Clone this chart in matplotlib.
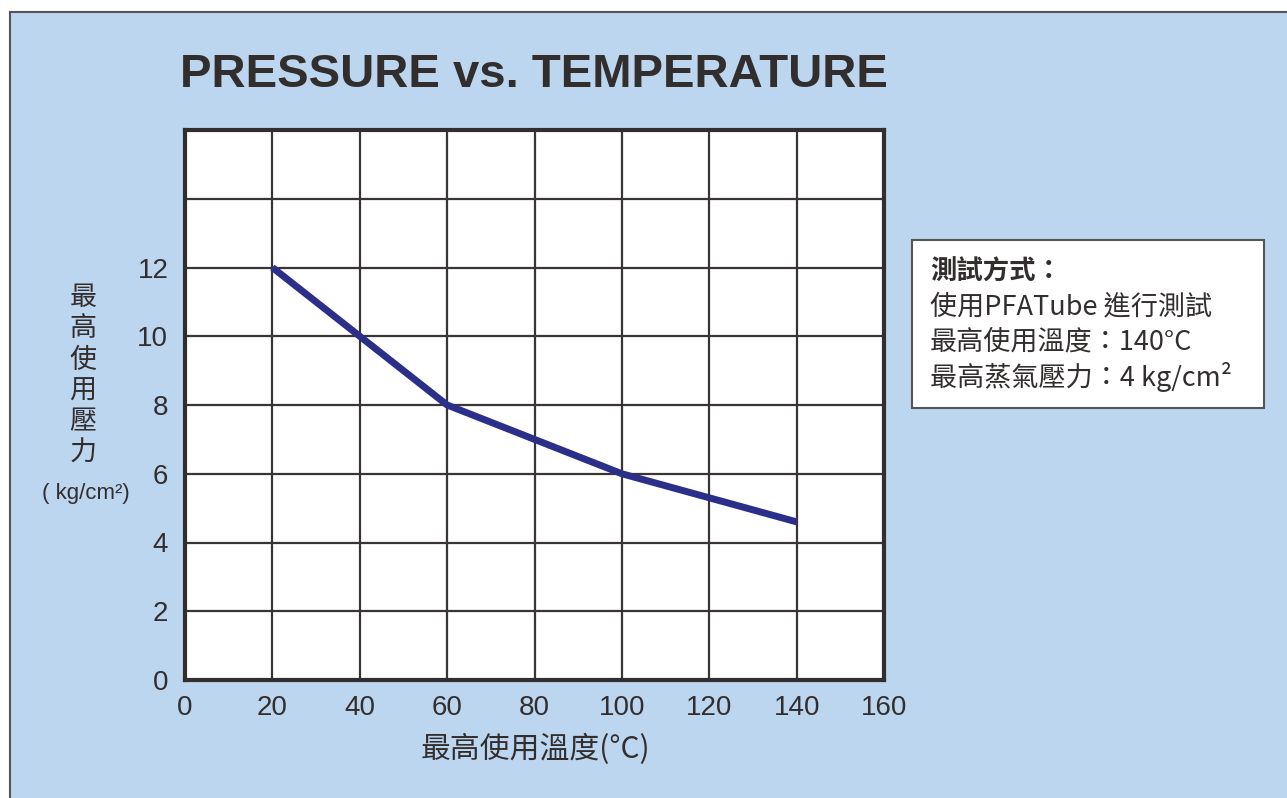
import matplotlib
matplotlib.use("Agg")
import matplotlib.pyplot as plt
from matplotlib.patches import Rectangle
from matplotlib.lines import Line2D

temps = [20, 40, 60, 80, 100, 120, 140]
pressures = [12, 10, 8, 7, 6, 5.3, 4.6]
x_ticks = [0, 20, 40, 60, 80, 100, 120, 140, 160]
y_ticks = [0, 2, 4, 6, 8, 10, 12]
y_grid = [0, 2, 4, 6, 8, 10, 12, 14, 16]

title = "PRESSURE vs. TEMPERATURE"
xlabel = "最高使用溫度(°C)"
ylabel_chars = ["最", "高", "使", "用", "壓", "力"]
ylabel_unit = "( kg/cm²)"
box_title = "測試方式："
box_lines = ["使用PFATube 進行測試", "最高使用溫度：140°C", "最高蒸氣壓力：4 kg/cm²"]

BG = "#BCD6F0"
DARK = "#332e2e"
LINE = "#2B2F8A"
CJK = ["Noto Sans CJK TC", "DejaVu Sans"]
LAT = ["Liberation Sans", "DejaVu Sans"]

W, H = 1287, 798
fig = plt.figure(figsize=(W / 100, H / 100), dpi=100)
fig.patch.set_facecolor("white")

# blue panel with frame
fig.patches.append(Rectangle((10 / W, 0), 1 - 10 / W, (H - 12) / H, transform=fig.transFigure,
                             facecolor=BG, edgecolor="none", zorder=0))
fig.lines.append(Line2D([10 / W, 10 / W], [0, (H - 12) / H], transform=fig.transFigure,
                        color="#555555", lw=1.5))
fig.lines.append(Line2D([10 / W, 1], [(H - 12) / H, (H - 12) / H], transform=fig.transFigure,
                        color="#555555", lw=1.5))

ax = fig.add_axes([185 / W, (H - 680) / H, 699 / W, 550 / H])
ax.set_zorder(5)
ax.set_facecolor("white")
ax.set_xlim(0, 160)
ax.set_ylim(0, 16)
for v in x_ticks[1:-1]:
    ax.axvline(v, color="#3a3535", lw=1.6, zorder=1)
for v in y_grid[1:-1]:
    ax.axhline(v, color="#3a3535", lw=1.6, zorder=1)
ax.plot(temps, pressures, color=LINE, lw=5, solid_capstyle="butt", solid_joinstyle="miter", zorder=3)

for s in ax.spines.values():
    s.set_linewidth(3)
    s.set_color(DARK)
ax.set_xticks(x_ticks)
ax.set_yticks(y_ticks)
ax.set_xticklabels([str(v) for v in x_ticks], fontsize=20, color=DARK, family=LAT)
ax.set_yticklabels([str(v) for v in y_ticks], fontsize=20, color=DARK, family=LAT)
ax.tick_params(axis="x", length=0, pad=11)
ax.tick_params(axis="y", length=0, pad=12)

# title
fig.text(534 / W, 1 - 75 / H, title, fontsize=34, fontweight="bold", color=DARK,
         family=LAT, ha="center", va="center")

# y label stacked
for i, ch in enumerate(ylabel_chars):
    fig.text(83 / W, 1 - (298 + i * 31) / H, ch, fontsize=19.5, color=DARK, family=CJK,
             ha="center", va="center")
fig.text(86 / W, 1 - 494 / H, ylabel_unit, fontsize=16, color=DARK, family=LAT,
         ha="center", va="center")

# x label
fig.text(535 / W, 1 - 749 / H, xlabel, fontsize=21.5, color=DARK, family=CJK,
         ha="center", va="center")

# info box
fig.patches.append(Rectangle((912 / W, 1 - 408 / H), (1264 - 912) / W, (408 - 240) / H,
                             transform=fig.transFigure, facecolor="white",
                             edgecolor="#555555", lw=1.5, zorder=2))
fig.text(930 / W, 1 - 272 / H, box_title, fontsize=19, fontweight="bold", color=DARK,
         family=CJK, ha="left", va="center", zorder=3)
for i, t in enumerate(box_lines):
    fig.text(930 / W, 1 - (307 + i * 35) / H, t, fontsize=19.5, color=DARK,
             family=CJK, ha="left", va="center", zorder=3)

fig.savefig("out.png", dpi=100, facecolor=fig.get_facecolor())
